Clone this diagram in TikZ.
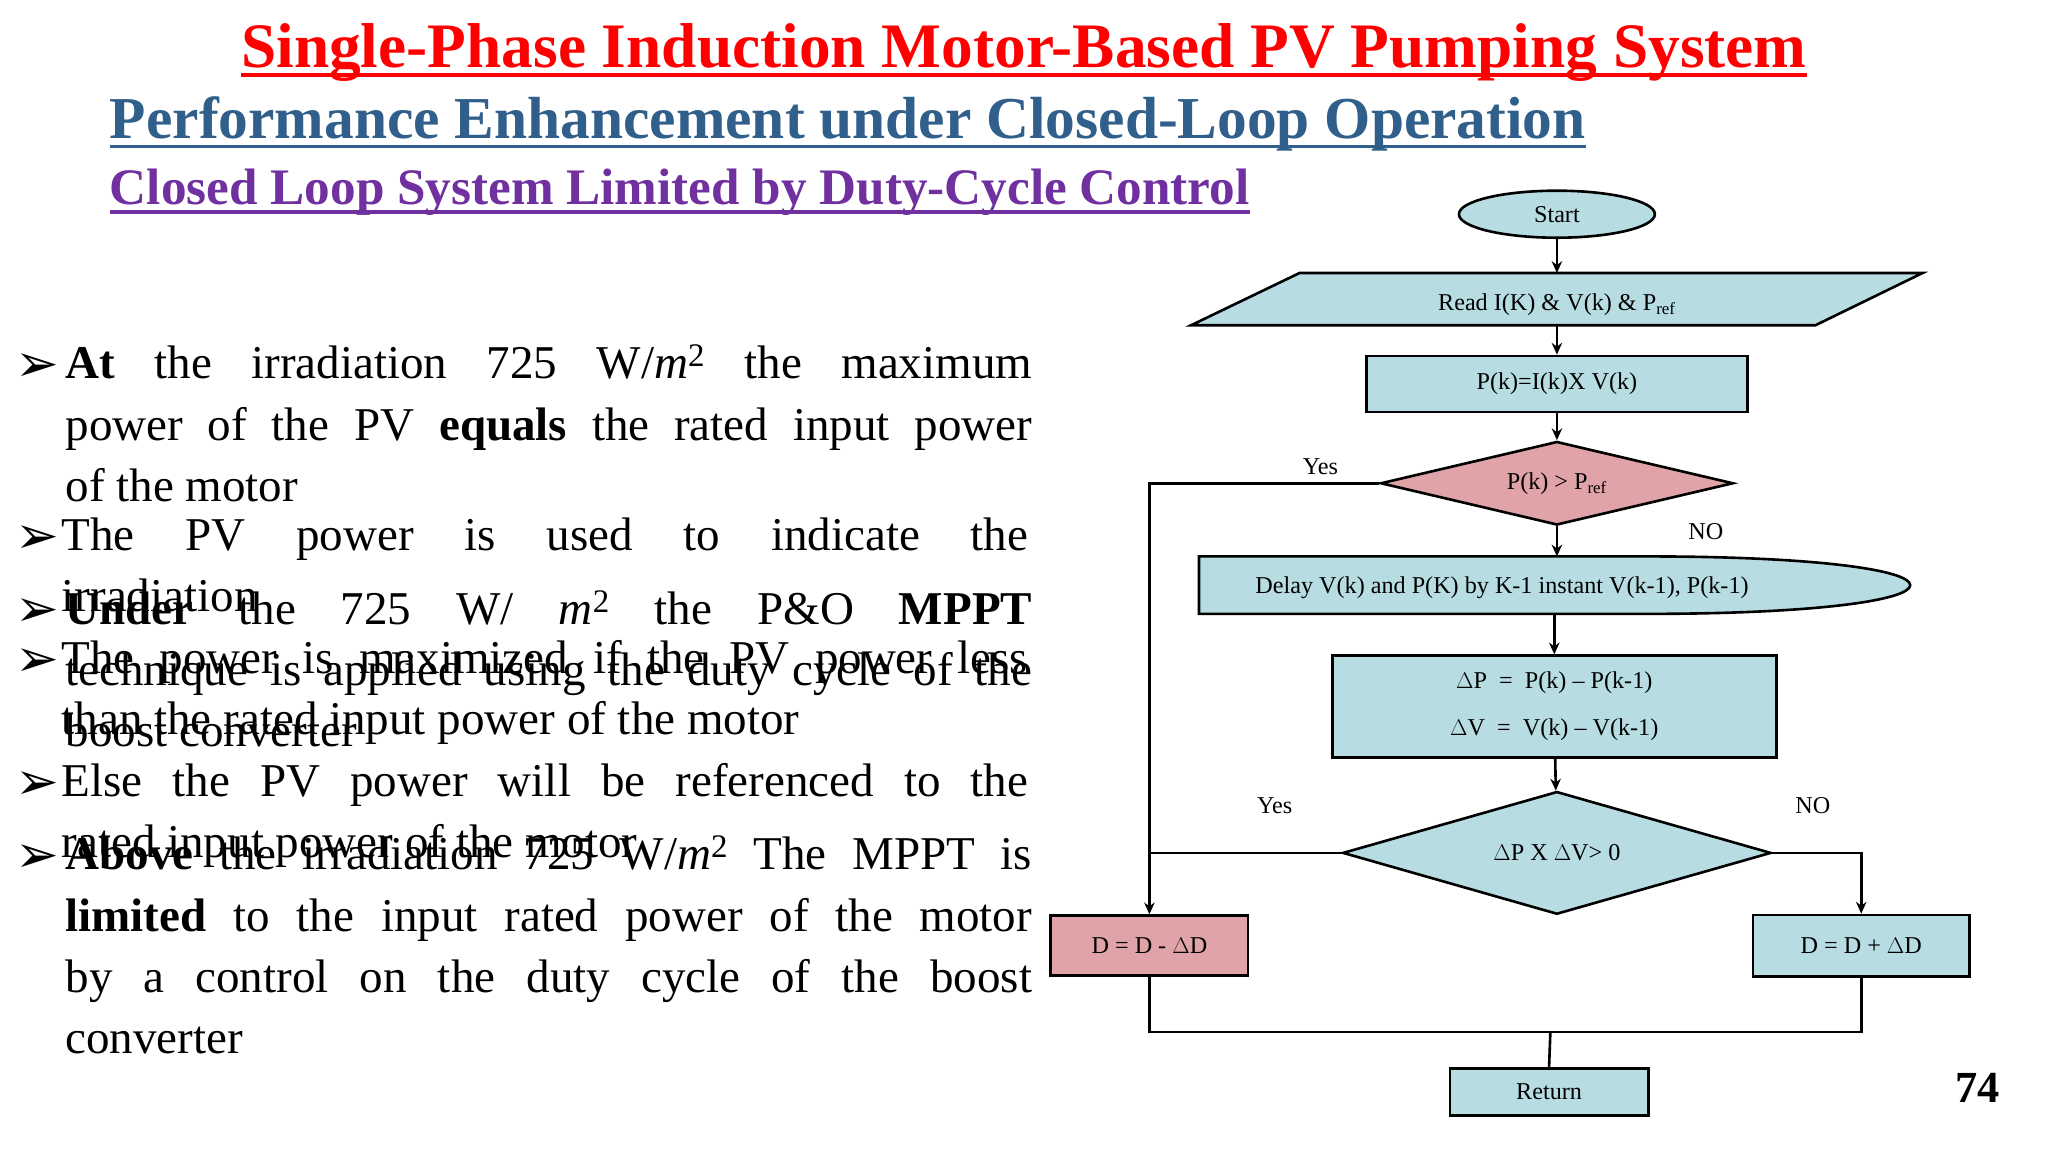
\documentclass[tikz,border=0pt]{standalone}
\usepackage{fontspec}
\setmainfont{Liberation Serif}
\newfontfamily\dejavu{DejaVu Sans}
\usetikzlibrary{shapes.geometric,arrows.meta}
\definecolor{fblue}{RGB}{183,221,227}
\definecolor{fpink}{RGB}{224,163,168}
\definecolor{tblue}{RGB}{47,95,138}
\definecolor{tpurple}{RGB}{112,48,160}
\newcommand{\msq}{\textit{m}\textsuperscript{2}}
\begin{document}
\begin{tikzpicture}[x=1pt,y=-1pt,
  fl/.style={font=\fontsize{18.5}{20}\selectfont},
  bx/.style={draw,line width=2pt,fill=fblue,fl,inner sep=0pt},
  bul/.style={anchor=north west,text width=740pt,align=justify,inner sep=0pt,font=\fontsize{36}{47}\selectfont},
  ln/.style={line width=2pt},
  ar/.style={line width=2pt,-{Stealth[length=9pt,width=8pt]}}]
\useasboundingbox (0,0) rectangle (1568,882);
\fill[white] (0,0) rectangle (1568,882);
% titles
\node[text=red,font=\fontsize{48.5}{52}\selectfont\bfseries,inner sep=0pt] (t1) at (784,40) {Single-Phase Induction Motor-Based PV Pumping System};
\draw[red,line width=3pt] ([yshift=-6pt]t1.base west) -- ([yshift=-6pt]t1.base east);
\node[text=tblue,font=\fontsize{45.5}{48}\selectfont\bfseries,anchor=west,inner sep=0pt] (t2) at (84,95) {Performance Enhancement under Closed-Loop Operation};
\draw[tblue,line width=3pt] ([yshift=-6pt]t2.base west) -- ([yshift=-6pt]t2.base east);
\node[text=tpurple,font=\fontsize{39.2}{42}\selectfont\bfseries,anchor=west,inner sep=0pt] (t3) at (84,147) {Closed Loop System Limited by Duty-Cycle Control};
\draw[tpurple,line width=2.5pt] ([yshift=-6pt]t3.base west) -- ([yshift=-6pt]t3.base east);
% bullets
\foreach \yy/\nm in {292/b1,424/b2,480/b3,518/b4,612/b5,668/b6}{
  \node[font=\dejavu\bfseries\fontsize{40}{42}\selectfont,anchor=base west,inner sep=0pt] (\nm m) at (12,\yy) {➢};}
\node[bul] (b1) at (50,264) {\textbf{At} the irradiation 725 W/\msq{} the maximum\linebreak power of the PV \textbf{equals} the rated input power\linebreak of the motor};
\node[bul] (b2) at (47,396) {The PV power is used to indicate the\linebreak irradiation};
\node[bul] (b3) at (50,452) {\textbf{Under} the 725 W/ \msq{} the P\&O \textbf{MPPT}\linebreak technique is applied using the duty cycle of the\linebreak boost converter};
\node[bul] (b4) at (47,490) {The power is maximized if the PV power less\linebreak than the rated input power of the motor};
\node[bul] (b5) at (47,584) {Else the PV power will be referenced to the\linebreak rated input power of the motor};
\node[bul] (b6) at (50,640) {\textbf{Above} the irradiation 725 W/\msq{} The MPPT is\linebreak \textbf{limited} to the input rated power of the motor\linebreak by a control on the duty cycle of the boost\linebreak converter};
\node[font=\fontsize{34}{40}\selectfont\bfseries] (pg) at (1514,833) {74};
% flowchart
\node[draw,ellipse,line width=2pt,fill=fblue,fl,minimum width=150pt,minimum height=36pt,inner sep=0pt] (st) at (1192,164) {Start};
\fill[fblue] (995,209) -- (1472,209) -- (1390,249) -- (912,249) -- cycle;
\draw[line width=2pt] (995,209) -- (1472,209) -- (1390,249) -- (912,249) -- cycle;
\node[fl,inner sep=0pt] (rd) at (1192,233) {Read I(K) \& V(k) \& P\textsubscript{ref}};
\coordinate (rdt) at (1192,209); \coordinate (rdb) at (1192,249);
\node[bx,minimum width=292pt,minimum height=43pt] (pk) at (1192,294) {P(k)=I(k)X V(k)};
\node[draw,diamond,aspect=4.2,line width=2pt,fill=fpink,fl,minimum width=270pt,minimum height=64pt,inner sep=0pt] (d1) at (1192,370) {P(k) > P\textsubscript{ref}};
\fill[fblue] (918,426) -- (1260,426) .. controls (1530,426) and (1530,470) .. (1260,470) -- (918,470) -- cycle;
\draw[line width=2pt] (918,426) -- (1260,426) .. controls (1530,426) and (1530,470) .. (1260,470) -- (918,470) -- cycle;
\node[fl,inner sep=0pt,minimum height=44pt] (dl) at (1150,450) {Delay V(k) and P(K) by K-1 instant V(k-1), P(k-1)};
\node[bx,minimum width=340pt,minimum height=78pt,align=center] (dp) at (1190,541) {$\Delta$P \ = \ P(k) -- P(k-1)\\[16pt] $\Delta$V \ = \ V(k) -- V(k-1)};
\node[draw,diamond,aspect=3.5,line width=2pt,fill=fblue,fl,minimum width=328pt,minimum height=94pt,inner sep=0pt] (d2) at (1192,653) {$\Delta$P X $\Delta$V> 0};
\node[bx,fill=fpink,minimum width=151pt,minimum height=46pt] (dm) at (880,724) {D = D - $\Delta$D};
\node[bx,minimum width=166pt,minimum height=47pt] (dpl) at (1425,724) {D = D + $\Delta$D};
\node[bx,minimum width=152pt,minimum height=36pt] (rt) at (1186,836) {Return};
\draw[ar] (st) -- (rdt);
\draw[ar] (rdb) -- (pk);
\draw[ar] (pk) -- (d1);
\draw[ar] (d1) -- (1192,426);
\draw[ar] (1190,470) -- (dp);
\draw[ar] (dp) -- (d2);
\draw[ar] (d1.west) -- (880,370) -- (dm.north);
\draw[ln] (d2.west) -- (880,653);
\draw[ar] (d2.east) -- (1425,653) -- (dpl.north);
\draw[ln] (dm.south) -- (880,790) -- (1425,790) -- (dpl.south);
\draw[ln] (1187,790) -- (rt.north);
\node[fl] (y1) at (1011,357) {Yes};
\node[fl] (n1) at (1306,407) {NO};
\node[fl] (y2) at (976,617) {Yes};
\node[fl] (n2) at (1388,617) {NO};
\end{tikzpicture}
\end{document}
